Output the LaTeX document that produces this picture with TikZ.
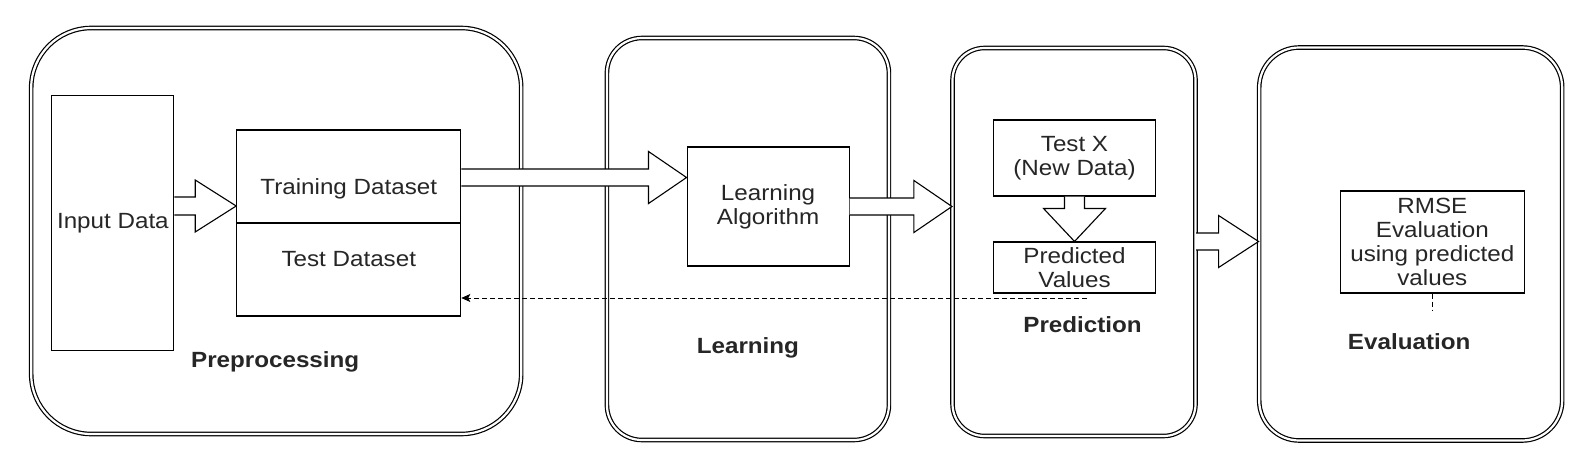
\documentclass[tikz,border=0pt]{standalone}
\usepackage{fontspec}
\setmainfont[FakeStretch=1.1]{Liberation Sans}
\usetikzlibrary{arrows.meta,calc}
\newcommand\hblockarrow[5]{%
  \draw[blockarr] let \p1=(#1), \p2=(#2) in
   (\x1,\y1+#3) -- (\x2-#5,\y1+#3) -- (\x2-#5,\y1+#4) -- (\x2,\y2)
   -- (\x2-#5,\y1-#4) -- (\x2-#5,\y1-#3) -- (\x1,\y1-#3);}
\newcommand\vblockarrow[5]{%
  \draw[blockarr] let \p1=(#1), \p2=(#2) in
   (\x1-#3,\y1) -- (\x1-#3,\y2+#5) -- (\x1-#4,\y2+#5) -- (\x2,\y2)
   -- (\x1+#4,\y2+#5) -- (\x1+#3,\y2+#5) -- (\x1+#3,\y1);}
\tikzset{
  container/.style={draw=black, double=white, line width=1.2pt, double distance=2.2pt, inner sep=0pt},
  box/.style={draw=black, line width=1.1pt, fill=white, inner sep=0pt, align=center,
    font=\fontsize{22}{24}\selectfont, text=black!85},
  lbl/.style={inner sep=0pt, font=\fontsize{22}{24}\selectfont\bfseries, text=black!85},
  blockarr/.style={draw=black, line width=1.1pt, fill=white, line join=miter},
  dasharr/.style={draw=black, line width=1pt, dash pattern=on 5pt off 3pt,
    -{Stealth[length=9pt,width=8pt,inset=2pt]}},
}
\begin{document}
\begin{tikzpicture}[x=1pt,y=-1pt]
\useasboundingbox[fill=white] (0,0) rectangle (1580,460);
\begin{scope}[x=1.008pt, xshift=1pt]
% containers
\node[container, rounded corners=60pt, minimum width=490pt, minimum height=406pt] (prep) at (273,231) {};
\node[container, rounded corners=35pt, minimum width=282pt, minimum height=402pt] (learn) at (741,239) {};
\node[container, rounded corners=32pt, minimum width=243pt, minimum height=388pt] (pred) at (1064.5,242) {};
\node[container, rounded corners=40pt, minimum width=303pt, minimum height=393pt] (eval) at (1398.5,244) {};
% inner boxes
\node[box, minimum width=122pt, minimum height=255pt] (input) at (111,223) {Input Data};
\node[box, minimum width=224pt, minimum height=93pt,
  label={[box, draw=none, fill=none, yshift=-12pt]center:Training Dataset}] (train) at (345,176.5) {};
\node[box, minimum width=224pt, minimum height=93pt,
  label={[box, draw=none, fill=none, yshift=10pt]center:Test Dataset}] (test) at (345,269.5) {};
\node[box, minimum width=162pt, minimum height=119pt] (alg) at (761,206.5) {Learning\\Algorithm};
\node[box, minimum width=162pt, minimum height=76pt] (testx) at (1065,158) {Test X\\(New Data)};
\node[box, minimum width=162pt, minimum height=51pt] (predv) at (1065,267.5) {Predicted\\Values};
\node[box, minimum width=184pt, minimum height=102pt] (rmse) at (1420,242) {RMSE\\Evaluation\\using predicted\\values};
% labels
\node[lbl] (lprep) at (272,362) {Preprocessing};
\node[lbl] (llearn) at (741,348) {Learning};
\node[lbl] (lpred) at (1073,325) {Prediction};
\node[lbl] (leval) at (1397,342) {Evaluation};
% block arrows
\coordinate (a1s) at (input.east |- 0,206);
\coordinate (a1t) at (train.west |- 0,206);
\hblockarrow{a1s}{a1t}{9pt}{26pt}{41pt}
\coordinate (a2s) at (train.east |- 0,177.5);
\coordinate (a2t) at (alg.west |- 0,177.5);
\hblockarrow{a2s}{a2t}{8.5pt}{26pt}{38pt}
\coordinate (a3s) at (alg.east |- 0,206.5);
\coordinate (a3t) at (pred.west |- 0,206.5);
\hblockarrow{a3s}{a3t}{8.5pt}{26pt}{38pt}
\coordinate (a4s) at (pred.east |- 0,241.5);
\coordinate (a4t) at (eval.west |- 0,241.5);
\hblockarrow{a4s}{a4t}{8.5pt}{26pt}{40pt}
\coordinate (a5s) at (testx.south);
\coordinate (a5t) at (predv.north);
\vblockarrow{a5s}{a5t}{10pt}{31pt}{33pt}
% dashed feedback
\coordinate (dstart) at (1077,298);
\draw[dasharr] (dstart) -- (test.east |- dstart);
\coordinate (rstub) at (1420,311);
\draw[black, line width=1pt, dash pattern=on 5pt off 3pt] (rmse.south) -- (rstub);
\end{scope}
\end{tikzpicture}
\end{document}
